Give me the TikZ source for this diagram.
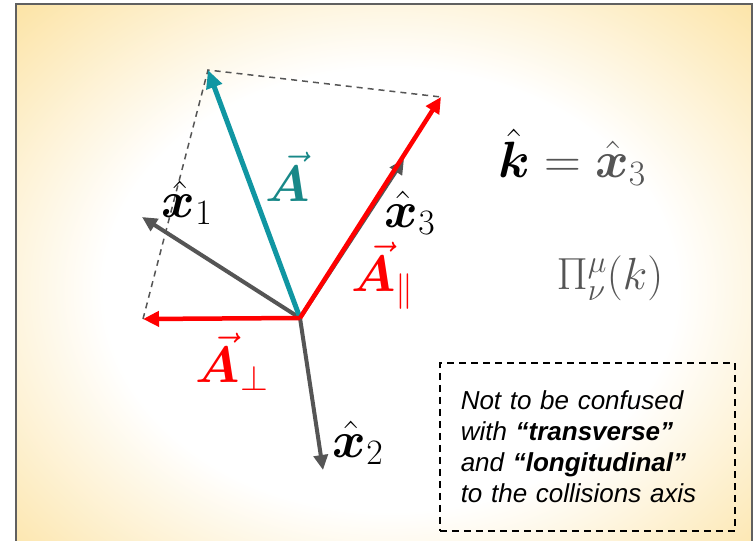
\RequirePackage{fix-cm}
\documentclass[tikz,border=0pt]{standalone}
\usepackage{amsmath, bm}
\usepackage{fontspec}
\newfontfamily\notefont{Liberation Sans}
\usetikzlibrary{arrows.meta, positioning}
\definecolor{axisgray}{RGB}{85,85,85}
\definecolor{framegray}{RGB}{96,96,96}
\definecolor{avecteal}{RGB}{16,150,162}
\definecolor{alabteal}{RGB}{24,136,136}
\definecolor{paperorange}{RGB}{252,227,164}
\pgfdeclareradialshading{paper}{\pgfpoint{0bp}{0bp}}{%
  color(0bp)=(white); color(13.5bp)=(white); color(25bp)=(paperorange);
  color(50bp)=(paperorange)}

\begin{document}
\begin{tikzpicture}[x=1pt, y=-1pt,
  every node/.style={inner sep=0pt},
  mathlbl/.style={font=\fontsize{51}{53}\selectfont},
  axis/.style={-{Triangle[length=15pt, width=14pt]}, line width=4pt, axisgray},
  comp/.style={-{Triangle[length=16pt, width=15pt]}, line width=4.5pt, red},
  avec/.style={-{Triangle[length=18pt, width=16pt]}, line width=5pt, avecteal},
  proj/.style={dash pattern=on 6pt off 5pt, line width=1.5pt, axisgray},
  notebox/.style={draw, dash pattern=on 7pt off 5pt, line width=1.5pt,
                  text width=253pt, inner xsep=21pt, minimum height=168pt,
                  align=left, anchor=north west},
]
  \useasboundingbox (0,0) rectangle (753,541);
  % paper
  \begin{scope}
    \clip (16,4) rectangle (752,560);
    \shade[shading=paper] (-140,-120) rectangle (920,700);
  \end{scope}
  \draw[line width=2pt, framegray] (16,560) -- (16,4) -- (752,4) -- (752,560);

  % end points
  \coordinate (O)    at (300,318);
  \coordinate (Atip) at (208,70);
  \coordinate (Apar) at (441,97);
  \coordinate (Aper) at (143,319);
  \coordinate (e1)   at (142,217);
  \coordinate (e2)   at (323,470);
  \coordinate (e3)   at (404,159);

  % projections
  \draw[proj] (Aper) -- (Atip) -- (Apar);

  % basis
  \draw[axis] (O) -- (e1);
  \draw[axis] (O) -- (e2);
  \draw[axis] (O) -- (e3);

  % vector and its parts
  \draw[avec] (O) -- (Atip);
  \draw[comp] (O) -- (Apar);
  \draw[comp] (O) -- (Aper);

  \node[mathlbl, alabteal] (lA)   at (288,177) {$\vec{\bm{A}}$};
  \node[mathlbl, red]      (lpar) at (383,276) {$\vec{\bm{A}}_{\parallel}$};
  \node[mathlbl, red]      (lper) at (232,362) {$\vec{\bm{A}}_{\perp}$};
  \node[mathlbl]           (l1)   at (187,203) {$\hat{\bm{x}}_1$};
  \node[mathlbl]           (l2)   at (358,443) {$\hat{\bm{x}}_2$};
  \node[mathlbl]           (l3)   at (410,213) {$\hat{\bm{x}}_3$};
  \node[mathlbl]           (kdef) at (572,157)
    {$\hat{\bm{k}}\textcolor{axisgray}{{}=\hat{\bm{x}}_3}$};
  \node[font=\fontsize{45}{47}\selectfont, axisgray] (pol) at (610,278)
    {$\Pi^{\mu}_{\nu}(k)$};

  \node[notebox, font=\notefont\itshape\fontsize{26}{31}\selectfont] (note) at (439,362)
    {Not to be confused\\ with \textbf{“transverse”}\\ and \textbf{“longitudinal”}\\ to the collisions axis};
\end{tikzpicture}
\end{document}
